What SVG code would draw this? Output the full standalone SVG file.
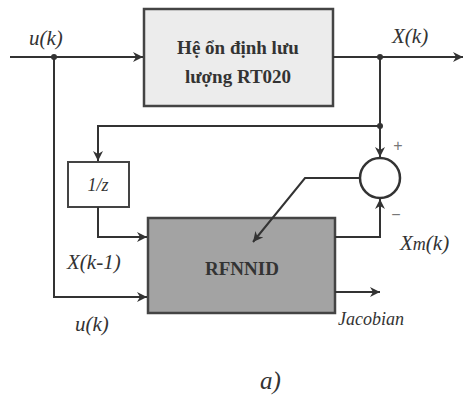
<svg xmlns="http://www.w3.org/2000/svg" width="466" height="396" viewBox="0 0 466 396">
<defs>
<marker id="ar" viewBox="0 0 10 10" refX="10" refY="5" markerWidth="5" markerHeight="5" orient="auto" markerUnits="strokeWidth">
<path d="M0,0 L10,5 L0,10 L3,5 z" fill="#333" stroke="none"/>
</marker>
</defs>
<rect width="466" height="396" fill="#fff"/>
<g id="plant">
<rect x="144" y="9" width="189" height="97" fill="#ececec" stroke="#444" stroke-width="2.5"/>
<text x="238" y="54" font-family="Liberation Serif" font-weight="bold" font-size="19" fill="#333" text-anchor="middle">Hệ ổn  định lưu</text>
<text x="238" y="83" font-family="Liberation Serif" font-weight="bold" font-size="19" fill="#333" text-anchor="middle">lượng RT020</text>
</g>
<g id="delay">
<rect x="68" y="162" width="61" height="45" fill="#fff" stroke="#444" stroke-width="2"/>
<text x="98" y="191" font-family="Liberation Serif" font-style="italic" font-size="18" fill="#333" text-anchor="middle">1/z</text>
</g>
<g id="sum">
<circle cx="380" cy="178" r="20" fill="#fff" stroke="#333" stroke-width="2.5"/>
<text x="398" y="151" font-family="Liberation Sans" font-size="16" fill="#777" text-anchor="middle">+</text>
<text x="396" y="220" font-family="Liberation Sans" font-size="16" fill="#777" text-anchor="middle">−</text>
</g>
<g id="rfnnid">
<rect x="148" y="218" width="187" height="95" fill="#a3a3a3" stroke="#444" stroke-width="2.5"/>
<text x="242" y="275" font-family="Liberation Serif" font-weight="bold" font-size="19" fill="#333" text-anchor="middle">RFNNID</text>
</g>
<g id="connectors" fill="none" stroke="#333" stroke-width="2">
<path d="M10,57 H143" marker-end="url(#ar)"/>
<path d="M333,57 H463" marker-end="url(#ar)"/>
<path d="M380,57 V126"/>
<path d="M380,126 H98 V161" marker-end="url(#ar)"/>
<path d="M380,126 V157" marker-end="url(#ar)"/>
<path d="M98,207 V237 H147" marker-end="url(#ar)"/>
<path d="M360,178 H305 L253,242" marker-end="url(#ar)"/>
<path d="M335,237 H380 V199" marker-end="url(#ar)"/>
<path d="M54,57 V297 H147" marker-end="url(#ar)"/>
<path d="M335,292 H380" marker-end="url(#ar)"/>
<circle cx="54" cy="57" r="3" fill="#333" stroke="none"/>
<circle cx="380" cy="57" r="3" fill="#333" stroke="none"/>
<circle cx="380" cy="126" r="3" fill="#333" stroke="none"/>
</g>
<text x="29" y="45" font-family="Liberation Serif" font-style="italic" font-size="21" fill="#333">u(k)</text>
<text x="392" y="43" font-family="Liberation Serif" font-style="italic" font-size="21" fill="#333">X(k)</text>
<text x="400" y="250" font-family="Liberation Serif" font-style="italic" font-size="21" fill="#333">X<tspan font-size="18">m</tspan>(k)</text>
<text x="67" y="269" font-family="Liberation Serif" font-style="italic" font-size="21" fill="#333">X(k-1)</text>
<text x="75" y="331" font-family="Liberation Serif" font-style="italic" font-size="21" fill="#333">u(k)</text>
<text x="338" y="325" font-family="Liberation Serif" font-style="italic" font-size="18" fill="#333">Jacobian</text>
<text x="260" y="389" font-family="Liberation Serif" font-style="italic" font-size="25" fill="#333">a)</text>
</svg>
